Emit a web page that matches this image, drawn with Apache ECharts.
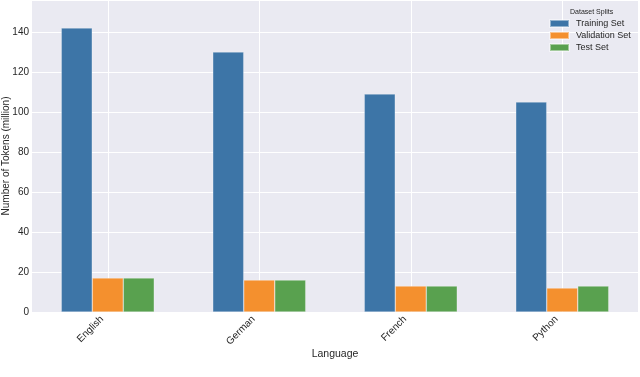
<!DOCTYPE html>
<html>
<head>
<meta charset="utf-8">
<script src="https://cdn.jsdelivr.net/npm/echarts@6/dist/echarts.min.js"></script>
<style>
  html, body { margin: 0; padding: 0; background: #fff; }
  #chart { width: 640px; height: 377px; }
</style>
</head>
<body>
<div id="chart"></div>
<script>
// 数据
const languages = ['English', 'German', 'French', 'Python'];
const trainTokens = [142, 130, 109, 105];
const validTokens = [17, 16, 13, 12];
const testTokens = [17, 16, 13, 13];
const yTicks = [0, 20, 40, 60, 80, 100, 120, 140];

const FONT = '"Liberation Sans", Arial, sans-serif';
const TEXT = '#262626';

const chart = echarts.init(document.getElementById('chart'));

const barStyle = (color) => ({
  color,
  borderColor: 'rgba(255,255,255,0.45)',
  borderWidth: 0.6
});

const option = {
  animation: false,
  textStyle: { fontFamily: FONT },
  grid: {
    left: 32, right: 2, top: 0, bottom: 65,
    outerBoundsMode: 'none',
    containLabel: false,
    show: true, backgroundColor: '#eaeaf2', borderWidth: 0
  },
  title: {
    text: 'Dataset Splits',
    left: 565, top: 4,
    textStyle: { fontSize: 7, fontWeight: 'normal', color: TEXT, fontFamily: FONT }
  },
  legend: {
    orient: 'vertical',
    left: 544, top: 14,
    itemWidth: 19, itemHeight: 7, itemGap: 3,
    icon: 'rect',
    textStyle: { fontSize: 9, color: TEXT, fontFamily: FONT, padding: [0, 0, 0, 2] },
    data: ['Training Set', 'Validation Set', 'Test Set']
  },
  xAxis: {
    type: 'category',
    data: languages,
    name: 'Language',
    nameLocation: 'middle',
    nameGap: 37,
    nameMoveOverlap: false,
    nameTextStyle: { fontSize: 10.5, color: TEXT },
    axisLine: { show: false },
    axisTick: { show: false },
    axisLabel: { rotate: 45, fontSize: 10, color: TEXT, margin: 0, padding: [0, 8, 0, 0] },
    splitLine: { show: false }
  },
  yAxis: {
    type: 'value',
    min: 0, max: 156, interval: 20,
    name: 'Number of Tokens (million)',
    nameLocation: 'middle',
    nameGap: 21,
    nameMoveOverlap: false,
    nameTextStyle: { fontSize: 10, color: TEXT },
    axisLine: { show: false },
    axisTick: { show: false },
    axisLabel: {
      fontSize: 10, color: TEXT, margin: 3,
      formatter: (v) => (yTicks.includes(v) ? String(v) : '')
    },
    splitLine: { lineStyle: { color: '#ffffff', width: 1 } }
  },
  series: [
    {
      // 竖向网格线（在柱子下面）
      type: 'line', data: [], z: 1, silent: true,
      markLine: {
        z: 1, silent: true, symbol: 'none', label: { show: false },
        lineStyle: { color: '#ffffff', width: 1, type: 'solid' },
        data: languages.map(l => ({ xAxis: l }))
      }
    },
    {
      name: 'Training Set', type: 'bar', data: trainTokens,
      barWidth: 31, barGap: '0%', z: 3, itemStyle: barStyle('#3d75a7')
    },
    {
      name: 'Validation Set', type: 'bar', data: validTokens,
      barWidth: 31, barGap: '0%', z: 3, itemStyle: barStyle('#f4902e')
    },
    {
      name: 'Test Set', type: 'bar', data: testTokens,
      barWidth: 31, barGap: '0%', z: 3, itemStyle: barStyle('#59a14f')
    }
  ]
};

chart.setOption(option);
</script>
</body>
</html>
